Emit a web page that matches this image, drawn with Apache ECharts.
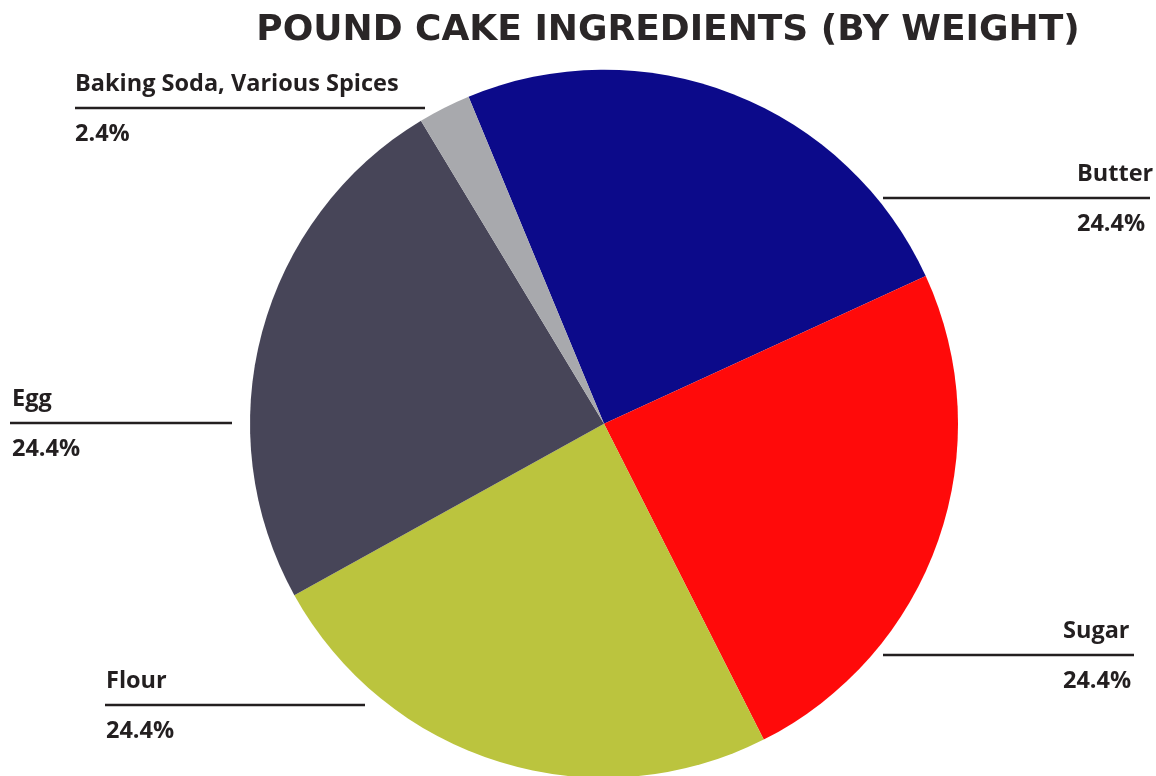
<!DOCTYPE html>
<html>
<head>
<meta charset="utf-8">
<script src="https://cdn.jsdelivr.net/npm/echarts@6/dist/echarts.min.js"></script>
<style>
html,body{margin:0;padding:0;background:#fff;}
#main{width:1156px;height:776px;}
</style>
</head>
<body>
<div id="main"></div>
<script>
// Data
const categories = ['Butter', 'Sugar', 'Flour', 'Egg', 'Baking Soda, Various Spices'];
const values = [24.4, 24.4, 24.4, 24.4, 2.4];
const colors = ['#0c0a8a', '#ff0a0a', '#bbc43e', '#474558', '#a8a9ad'];

// Label placement (text left x, rule y, rule from x, rule to x)
const labelPlacement = [
  { tx: 1077, y: 198, x1: 883, x2: 1150 },
  { tx: 1063, y: 655, x1: 883, x2: 1134 },
  { tx: 106, y: 705, x1: 105, x2: 365 },
  { tx: 12, y: 423, x1: 10, x2: 232 },
  { tx: 75, y: 108, x1: 75, x2: 425 }
];

const chart = echarts.init(document.getElementById('main'));
const option = {
  backgroundColor: '#ffffff',
  animation: false,
  title: {
    text: 'POUND CAKE INGREDIENTS (BY WEIGHT)',
    left: 663,
    textAlign: 'center',
    top: 8,
    textStyle: {
      fontFamily: 'DejaVu Sans',
      fontWeight: 'bold',
      fontSize: 36,
      color: '#2a2627'
    }
  },
  series: [{
    type: 'pie',
    center: ['52.25%', '54.6%'],
    radius: 354,
    startAngle: 112.5,
    clockwise: true,
    data: categories.map((c, i) => ({ name: c, value: values[i], itemStyle: { color: colors[i] } })),
    label: {
      show: true,
      formatter: p => '{n|' + p.name + '}\n{p|' + p.value.toFixed(1) + '%}',
      rich: {
        n: { fontFamily: 'Open Sans', fontWeight: 'bold', fontSize: 23.5, color: '#231f20', lineHeight: 50, padding: [3, 0, 0, 0] },
        p: { fontFamily: 'Open Sans', fontWeight: 'bold', fontSize: 23.5, color: '#231f20', lineHeight: 50, padding: [3, 0, 0, 0] }
      }
    },
    labelLine: {
      show: true,
      lineStyle: { color: '#231f20', width: 2.5 }
    },
    labelLayout: function (params) {
      const L = labelPlacement[params.dataIndex];
      const isRight = L.tx > 600;
      return {
        x: L.tx,
        y: L.y,
        align: 'left',
        verticalAlign: 'middle',
        labelLinePoints: isRight
          ? [[L.x1, L.y], [L.tx, L.y], [L.x2, L.y]]
          : [[L.x2, L.y], [(L.x1 + L.x2) / 2, L.y], [L.x1, L.y]]
      };
    }
  }]
};
chart.setOption(option);
</script>
</body>
</html>
